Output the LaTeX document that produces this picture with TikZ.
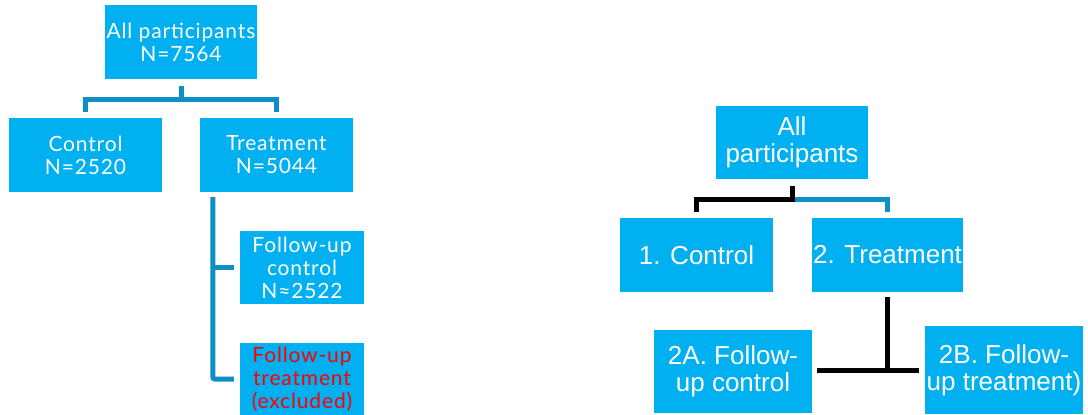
\documentclass[tikz,border=0pt]{standalone}
\usepackage{fontspec}
\setmainfont{Liberation Sans}
\newfontfamily\leftfont[LetterSpace=4]{Lato}
\definecolor{boxblue}{HTML}{00B0F0}
\definecolor{connblue}{HTML}{0F8FC7}
\tikzset{
  box/.style      = { fill=boxblue, text=white, inner sep=0pt, align=center },
  lbox/.style     = { box, font=\leftfont\fontsize{21}{23}\selectfont },
  rbox/.style     = { box, font=\fontsize{26}{27}\selectfont },
  connect/.style  = { line width=5pt, draw=connblue },
  blackline/.style= { line width=5pt, draw=black }
}
\begin{document}
\begin{tikzpicture}[x=1pt,y=-1pt]
    \useasboundingbox (0,0) rectangle (1088,415);

    % left tree
    \node[lbox, minimum width=152pt, minimum height=74pt] (lall) at (181,42) {All participants\\N=7564};
    \node[lbox, minimum width=153pt, minimum height=74pt] (lctrl) at (85.5,155) {Control\\N=2520};
    \node[lbox, minimum width=153pt, minimum height=74pt] (ltreat) at (276.5,155) {Treatment\\N=5044};
    \node[lbox, minimum width=124pt, minimum height=73pt] (lfuc) at (302,267.5) {Follow-up\\control\\N≈2522};
    \node[lbox, minimum width=124pt, minimum height=72pt, text=red] (lfut) at (302,379) {Follow-up\\treatment\\(excluded)};

    \draw[connect] ([yshift=6pt]lctrl.north) -- ++(0,-12) coordinate (lbar) -| ([yshift=6pt]ltreat.north);
    \draw[connect] ([yshift=-7pt]lall.south) -- (lall.south |- lbar);
    \coordinate (lspine) at ([xshift=13pt,yshift=-5pt]ltreat.south west);
    \draw[connect, rounded corners=2pt] (lspine) |- ([xshift=-6pt]lfut.west);
    \draw[connect] (lspine |- lfuc.west) -- ([xshift=-6pt]lfuc.west);

    % right tree
    \node[rbox, minimum width=152pt, minimum height=73pt] (rall) at (792,142.5) {All\\participants};
    \node[rbox, minimum width=153pt, minimum height=74pt] (rctrl) at (696.5,255) {1. Control};
    \node[rbox, minimum width=151pt, minimum height=74pt] (rtreat) at (887.5,255) {2. Treatment};
    \node[rbox, minimum width=158pt, minimum height=83pt] (rfuc) at (733,371.5) {2A. Follow-\\up control};
    \node[rbox, minimum width=158pt, minimum height=88pt] (rfut) at (1004,370) {2B. Follow-\\up treatment)};

    \coordinate (rbar) at ([yshift=-20pt]rall.south);
    \draw[connect] (rbar) -| ([yshift=6pt]rtreat.north);
    \draw[blackline] ([yshift=-7pt]rall.south) -- (rbar) -| ([yshift=6pt]rctrl.north);
    \coordinate (rhbar) at (rtreat.south |- 0,370);
    \draw[blackline] ([yshift=-5pt]rtreat.south) -- (rhbar);
    \draw[blackline] ([xshift=5pt]rfuc.east |- rhbar) -- ([xshift=-6pt]rfut.west |- rhbar);
\end{tikzpicture}
\end{document}
